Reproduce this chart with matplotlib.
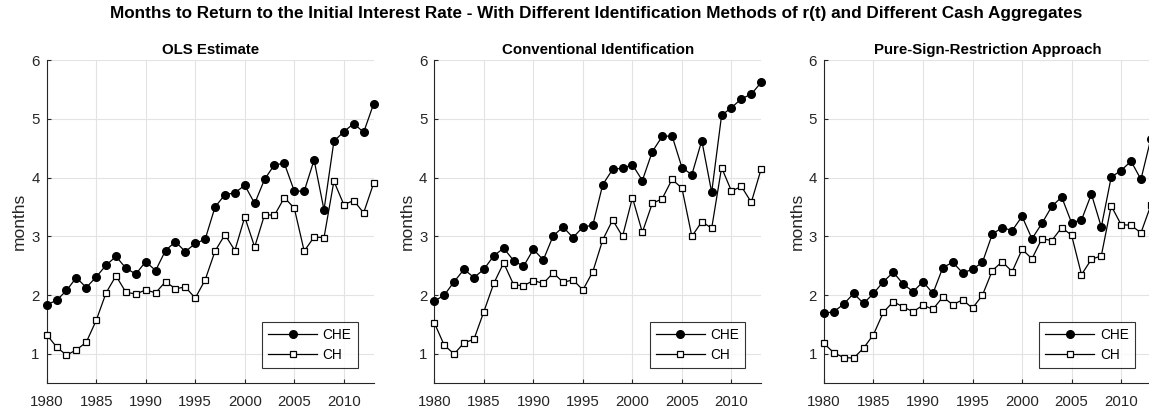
import matplotlib
matplotlib.use("Agg")
import matplotlib.pyplot as plt

plt.rcParams["font.family"] = ["Liberation Sans", "DejaVu Sans"]

years = list(range(1980, 2014))

ols_che = [1.84, 1.91, 2.08, 2.30, 2.13, 2.31, 2.51, 2.66, 2.46, 2.36,
           2.57, 2.42, 2.76, 2.91, 2.74, 2.88, 2.95, 3.50, 3.71, 3.74,
           3.87, 3.56, 3.97, 4.22, 4.24, 3.77, 3.77, 4.30, 3.45, 4.62,
           4.78, 4.92, 4.77, 5.25]
ols_ch = [1.33, 1.12, 0.98, 1.07, 1.20, 1.57, 2.04, 2.33, 2.05, 2.02,
          2.09, 2.04, 2.23, 2.11, 2.14, 1.95, 2.26, 2.75, 3.03, 2.76,
          3.33, 2.82, 3.37, 3.36, 3.66, 3.48, 2.75, 2.99, 2.98, 3.94,
          3.54, 3.61, 3.40, 3.90]

conv_che = [1.90, 2.00, 2.23, 2.44, 2.30, 2.44, 2.67, 2.80, 2.59, 2.49,
            2.78, 2.60, 3.01, 3.16, 2.98, 3.16, 3.19, 3.88, 4.14, 4.16,
            4.22, 3.95, 4.44, 4.70, 4.71, 4.17, 4.05, 4.63, 3.75, 5.06,
            5.19, 5.34, 5.42, 5.62]
conv_ch = [1.53, 1.15, 1.00, 1.19, 1.25, 1.72, 2.20, 2.55, 2.18, 2.16,
           2.25, 2.20, 2.38, 2.22, 2.26, 2.09, 2.40, 2.94, 3.28, 3.00,
           3.66, 3.07, 3.56, 3.64, 3.97, 3.82, 3.00, 3.25, 3.14, 4.17,
           3.77, 3.85, 3.58, 4.15]

sign_che = [1.69, 1.72, 1.85, 2.03, 1.86, 2.03, 2.23, 2.39, 2.19, 2.06,
            2.23, 2.03, 2.47, 2.56, 2.38, 2.44, 2.56, 3.04, 3.15, 3.10,
            3.34, 2.96, 3.22, 3.51, 3.67, 3.23, 3.28, 3.72, 3.16, 4.01,
            4.12, 4.28, 3.97, 4.66]
sign_ch = [1.18, 1.02, 0.94, 0.93, 1.10, 1.33, 1.71, 1.89, 1.80, 1.72,
           1.83, 1.76, 1.97, 1.84, 1.92, 1.78, 2.00, 2.42, 2.57, 2.40,
           2.78, 2.62, 2.96, 2.93, 3.15, 3.02, 2.35, 2.61, 2.67, 3.52,
           3.20, 3.19, 3.06, 3.53]

panel_titles = ["OLS Estimate", "Conventional Identification",
                "Pure-Sign-Restriction Approach"]
panel_data = [(ols_che, ols_ch), (conv_che, conv_ch), (sign_che, sign_ch)]
x_ticks = [1980, 1985, 1990, 1995, 2000, 2005, 2010]
y_ticks = [1, 2, 3, 4, 5, 6]

fig = plt.figure(figsize=(11.49, 4.08), dpi=100)
lefts = [0.0406, 0.378, 0.7171]
axis_color = "#262626"

for left, title, (che, ch) in zip(lefts, panel_titles, panel_data):
    ax = fig.add_axes([left, 0.0603, 0.2845, 0.7926])
    ax.plot(years, che, color="black", linewidth=0.9, marker="o",
            markersize=5.5, markerfacecolor="black", markeredgecolor="black",
            label="CHE", clip_on=False, zorder=3)
    ax.plot(years, ch, color="black", linewidth=0.9, marker="s",
            markersize=4.8, markerfacecolor="white", markeredgecolor="black",
            markeredgewidth=0.9, label="CH", clip_on=False, zorder=3)

    ax.set_xlim(1980, 2013)
    ax.set_ylim(0.5, 6)
    ax.set_xticks(x_ticks)
    ax.set_yticks(y_ticks)
    ax.grid(True, color="#e3e3e3", linewidth=0.8)
    ax.set_axisbelow(True)
    for side in ["top", "right"]:
        ax.spines[side].set_visible(False)
    for side in ["left", "bottom"]:
        ax.spines[side].set_color(axis_color)
        ax.spines[side].set_linewidth(0.8)
    ax.tick_params(direction="in", length=3, width=0.8, colors=axis_color,
                   labelsize=10.8)
    ax.tick_params(axis="x", pad=8)
    ax.tick_params(axis="y", pad=5)
    ax.set_ylabel("months", fontsize=12.5, color=axis_color, labelpad=3)
    ax.set_title(title, fontsize=10.8, fontweight="bold", pad=4)

    leg = ax.legend(loc="lower right", bbox_to_anchor=(0.951, 0.047),
                    fontsize=9.8, frameon=True, fancybox=False,
                    edgecolor="black", handlelength=3.6, handletextpad=0.4,
                    borderpad=0.45, labelspacing=0.45, borderaxespad=0)
    leg.get_frame().set_linewidth(0.8)

fig.suptitle("Months to Return to the Initial Interest Rate - With Different "
             "Identification Methods of r(t) and Different Cash Aggregates",
             fontsize=12.3, fontweight="bold", x=0.519, y=0.985)

plt.savefig("out.png", dpi=100)
plt.close()
